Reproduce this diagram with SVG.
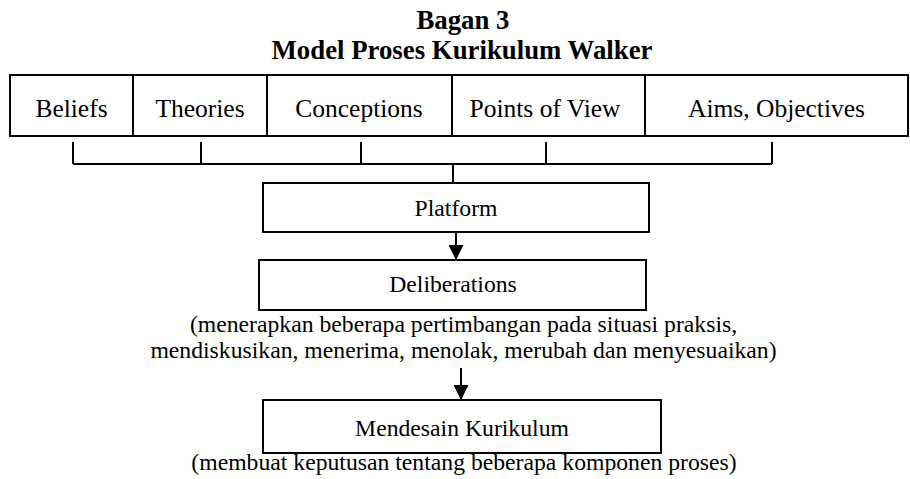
<svg xmlns="http://www.w3.org/2000/svg" width="910" height="479" viewBox="0 0 910 479">
<style>
.box{fill:#fff;stroke:#000;stroke-width:2}
.ln{fill:none;stroke:#000;stroke-width:2}
.title{font-family:"Liberation Serif","Times New Roman",serif;font-weight:bold;font-size:26.8px;text-anchor:middle;fill:#000}
.lbl{font-family:"Liberation Serif","Times New Roman",serif;font-size:25.5px;text-anchor:middle;fill:#000}
.t{font-family:"Liberation Serif","Times New Roman",serif;font-size:23.7px;text-anchor:middle;fill:#000}
</style>
<defs>
<marker id="ah" markerWidth="15" markerHeight="15" refX="15" refY="7.5" orient="auto" markerUnits="userSpaceOnUse">
<path d="M0,0 L15,7.5 L0,15 Z" fill="#000"/>
</marker>
</defs>
<g id="title">
<text class="title" x="463" y="29">Bagan 3</text>
<text class="title" x="462" y="59">Model Proses Kurikulum Walker</text>
</g>
<g id="beliefs">
<rect class="box" x="10" y="75" width="123" height="61"/>
<text class="lbl" x="71.5" y="117">Beliefs</text>
</g>
<g id="theories">
<rect class="box" x="133" y="75" width="134" height="61"/>
<text class="lbl" x="200" y="117">Theories</text>
</g>
<g id="conceptions">
<rect class="box" x="267" y="75" width="185" height="61"/>
<text class="lbl" x="359" y="117">Conceptions</text>
</g>
<g id="points">
<rect class="box" x="452" y="75" width="193" height="61"/>
<text class="lbl" x="545" y="117">Points of View</text>
</g>
<g id="aims">
<rect class="box" x="645" y="75" width="263" height="61"/>
<text class="lbl" x="776.5" y="117">Aims, Objectives</text>
</g>
<g id="connectors">
<path class="ln" d="M73,142 V164 M201,142 V164 M361,142 V164 M546,142 V164 M772,142 V164 M73,164 H772 M453,164 V183"/>
<line class="ln" x1="456" y1="232" x2="456" y2="260" marker-end="url(#ah)"/>
<line class="ln" x1="461" y1="368" x2="461" y2="400" marker-end="url(#ah)"/>
</g>
<g id="platform">
<rect class="box" x="263" y="183" width="386" height="49"/>
<text class="t" x="456" y="216">Platform</text>
</g>
<g id="deliberations">
<rect class="box" x="259" y="260" width="387" height="50"/>
<text class="t" x="453" y="292">Deliberations</text>
<text class="t" x="463.5" y="332">(menerapkan beberapa pertimbangan pada situasi praksis,</text>
<text class="t" x="463.5" y="358">mendiskusikan, menerima, menolak, merubah dan menyesuaikan)</text>
</g>
<g id="mendesain">
<rect class="box" x="263" y="400" width="398" height="53"/>
<text class="t" x="462" y="436">Mendesain Kurikulum</text>
<text class="t" x="464" y="470">(membuat keputusan tentang beberapa komponen proses)</text>
</g>
</svg>
